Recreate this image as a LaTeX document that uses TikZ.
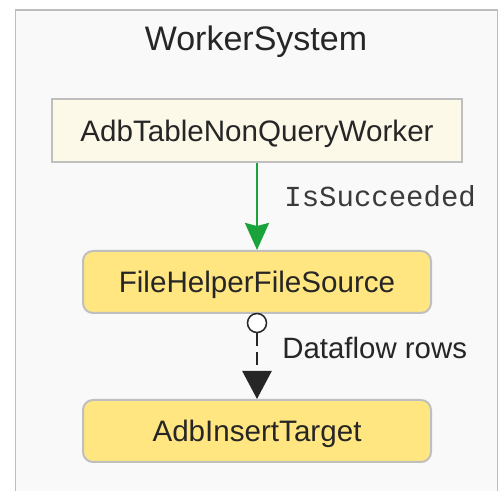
\documentclass[tikz,border=0pt]{standalone}
\usepackage{fontspec}
\setmainfont{Liberation Sans}
\newfontfamily\codefont{Liberation Mono}
\usetikzlibrary{arrows.meta}
\definecolor{bgfill}{HTML}{F9F9F9}
\definecolor{frameline}{HTML}{BDBDBD}
\definecolor{boxline}{HTML}{BFBFBF}
\definecolor{workerfill}{HTML}{FDF9E9}
\definecolor{compfill}{HTML}{FFE680}
\definecolor{txt}{HTML}{262626}
\definecolor{codetxt}{HTML}{3A3A3A}
\definecolor{okgreen}{RGB}{26,163,58}
\tikzset{
  basebox/.style={draw=boxline, line width=1pt, text=txt, inner sep=0pt,
    font=\fontsize{14.8pt}{17pt}\selectfont, text height=10.6pt, text depth=0pt,
    align=center},
  workerbox/.style={basebox, fill=workerfill, minimum width=205pt, minimum height=31.5pt},
  compbox/.style={basebox, fill=compfill, rounded corners=5pt, minimum width=174pt, minimum height=31pt},
  titletext/.style={text=txt, inner sep=0pt, font=\fontsize{17pt}{20pt}\selectfont},
  labeltext/.style={text=txt, inner sep=0pt, font=\fontsize{14.7pt}{17pt}\selectfont},
  codelabel/.style={text=codetxt, inner sep=0pt, font=\codefont\fontsize{14.5pt}{17pt}\selectfont},
  successarrow/.style={draw=okgreen, line width=1.3pt, -{Stealth[length=13.5pt, width=12pt, inset=1.5pt]}},
  flowarrow/.style={draw=txt, line width=1.25pt, dash pattern=on 6.5pt off 3pt, -{Triangle[length=14pt, width=14.5pt]}},
  portcircle/.style={circle, draw=txt, line width=0.75pt, fill=white, inner sep=0pt, minimum size=9.5pt}
}
\begin{document}
\begin{tikzpicture}[x=0.5pt, y=-0.5pt]
\useasboundingbox (0,0) rectangle (499,491);
\fill[white] (0,0) rectangle (499,491);
\fill[bgfill] (15,10) rectangle (498,491);
\draw[frameline, line width=0.75pt] (15.5,491) -- (15.5,10) -- (497.5,10) -- (497.5,491);
\node[titletext, anchor=base] (title) at (256,51) {WorkerSystem};
\node[workerbox] (worker) at (257,130.5) {AdbTableNonQueryWorker};
\node[compbox] (source) at (257,282) {FileHelperFileSource};
\node[compbox] (target) at (257,431) {AdbInsertTarget};
\node[portcircle] (port) at (257,323) {};
\draw[successarrow] (worker.south) -- (source.north);
\draw[flowarrow] (port.south) -- (target.north);
\node[codelabel, anchor=base west] (succ) at (284,207) {IsSucceeded};
\node[labeltext, anchor=base west] (flowlabel) at (282,359) {Dataflow rows};
\end{tikzpicture}
\end{document}
